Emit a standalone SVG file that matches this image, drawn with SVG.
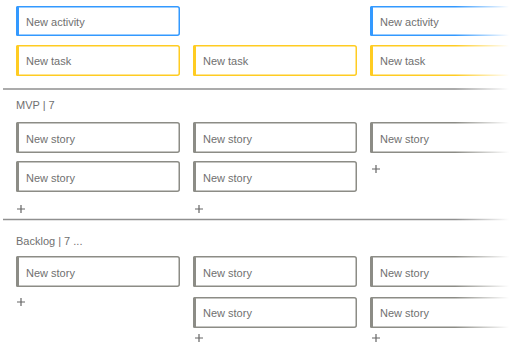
<svg xmlns="http://www.w3.org/2000/svg" width="509" height="345" viewBox="0 0 509 345">
  <style>
    .card { fill: #ffffff; stroke-width: 1.5; }
    .activity .card { stroke: #3399ff; }
    .activity .bar { fill: #3399ff; }
    .task .card { stroke: #ffcc22; }
    .task .bar { fill: #ffcc22; }
    .story .card { stroke: #8c8c86; }
    .story .bar { fill: #8c8c86; }
    .label { font-family: "Liberation Sans", Arial, sans-serif; font-size: 11px; fill: #707070; }
    .head { font-family: "Liberation Sans", Arial, sans-serif; font-size: 11px; fill: #707070; }
    .plus { stroke: #666666; stroke-width: 1.2; fill: none; }
    .sep { stroke: #8f8f8f; stroke-width: 1.5; }
  </style>
  <defs>
    <linearGradient id="fadeRight" x1="0" y1="0" x2="1" y2="0">
      <stop offset="0" stop-color="#ffffff" stop-opacity="0"/>
      <stop offset="1" stop-color="#ffffff" stop-opacity="1"/>
    </linearGradient>
  </defs>
  <rect width="509" height="345" fill="#ffffff"/>

  <!-- activities -->
  <g id="activity-1" class="activity">
    <rect class="card" x="16.75" y="6.75" width="162.5" height="28.5" rx="2"/>
    <rect class="bar" x="16" y="6" width="3" height="30" rx="1.5"/>
    <text class="label" x="26" y="25.5">New activity</text>
  </g>
  <g id="activity-3" class="activity">
    <rect class="card" x="370.75" y="6.75" width="162.5" height="28.5" rx="2"/>
    <rect class="bar" x="370" y="6" width="3" height="30" rx="1.5"/>
    <text class="label" x="380" y="25.5">New activity</text>
  </g>

  <!-- tasks -->
  <g id="task-1" class="task">
    <rect class="card" x="16.75" y="45.75" width="162.5" height="29.5" rx="2"/>
    <rect class="bar" x="16" y="45" width="3" height="31" rx="1.5"/>
    <text class="label" x="26" y="65">New task</text>
  </g>
  <g id="task-2" class="task">
    <rect class="card" x="193.75" y="45.75" width="162.5" height="29.5" rx="2"/>
    <rect class="bar" x="193" y="45" width="3" height="31" rx="1.5"/>
    <text class="label" x="203" y="65">New task</text>
  </g>
  <g id="task-3" class="task">
    <rect class="card" x="370.75" y="45.75" width="162.5" height="29.5" rx="2"/>
    <rect class="bar" x="370" y="45" width="3" height="31" rx="1.5"/>
    <text class="label" x="380" y="65">New task</text>
  </g>

  <line class="sep" x1="3" y1="89" x2="509" y2="89"/>
  <text class="head" x="16" y="108.5">MVP | 7</text>

  <!-- MVP stories -->
  <g id="mvp-story-1-1" class="story">
    <rect class="card" x="16.75" y="122.75" width="162.5" height="29.5" rx="2"/>
    <rect class="bar" x="16" y="122" width="3" height="31" rx="1.5"/>
    <text class="label" x="26" y="142.5">New story</text>
  </g>
  <g id="mvp-story-1-2" class="story">
    <rect class="card" x="16.75" y="161.75" width="162.5" height="29.5" rx="2"/>
    <rect class="bar" x="16" y="161" width="3" height="31" rx="1.5"/>
    <text class="label" x="26" y="181.5">New story</text>
  </g>
  <g id="mvp-story-2-1" class="story">
    <rect class="card" x="193.75" y="122.75" width="162.5" height="29.5" rx="2"/>
    <rect class="bar" x="193" y="122" width="3" height="31" rx="1.5"/>
    <text class="label" x="203" y="142.5">New story</text>
  </g>
  <g id="mvp-story-2-2" class="story">
    <rect class="card" x="193.75" y="161.75" width="162.5" height="29.5" rx="2"/>
    <rect class="bar" x="193" y="161" width="3" height="31" rx="1.5"/>
    <text class="label" x="203" y="181.5">New story</text>
  </g>
  <g id="mvp-story-3-1" class="story">
    <rect class="card" x="370.75" y="122.75" width="162.5" height="29.5" rx="2"/>
    <rect class="bar" x="370" y="122" width="3" height="31" rx="1.5"/>
    <text class="label" x="380" y="142.5">New story</text>
  </g>

  <!-- add buttons, MVP -->
  <g id="mvp-add-1"><path class="plus" d="M17 209h8M21 205v8"/></g>
  <g id="mvp-add-2"><path class="plus" d="M195 209h8M199 205v8"/></g>
  <g id="mvp-add-3"><path class="plus" d="M372 169h8M376 165v8"/></g>

  <line class="sep" x1="3" y1="219.5" x2="509" y2="219.5"/>
  <text class="head" x="16" y="244.5">Backlog | 7 ...</text>

  <!-- backlog stories -->
  <g id="backlog-story-1-1" class="story">
    <rect class="card" x="16.75" y="256.75" width="162.5" height="29.5" rx="2"/>
    <rect class="bar" x="16" y="256" width="3" height="31" rx="1.5"/>
    <text class="label" x="26" y="276.5">New story</text>
  </g>
  <g id="backlog-story-2-1" class="story">
    <rect class="card" x="193.75" y="256.75" width="162.5" height="29.5" rx="2"/>
    <rect class="bar" x="193" y="256" width="3" height="31" rx="1.5"/>
    <text class="label" x="203" y="276.5">New story</text>
  </g>
  <g id="backlog-story-2-2" class="story">
    <rect class="card" x="193.75" y="297.75" width="162.5" height="29.5" rx="2"/>
    <rect class="bar" x="193" y="297" width="3" height="31" rx="1.5"/>
    <text class="label" x="203" y="316.5">New story</text>
  </g>
  <g id="backlog-story-3-1" class="story">
    <rect class="card" x="370.75" y="256.75" width="162.5" height="29.5" rx="2"/>
    <rect class="bar" x="370" y="256" width="3" height="31" rx="1.5"/>
    <text class="label" x="380" y="276.5">New story</text>
  </g>
  <g id="backlog-story-3-2" class="story">
    <rect class="card" x="370.75" y="297.75" width="162.5" height="29.5" rx="2"/>
    <rect class="bar" x="370" y="297" width="3" height="31" rx="1.5"/>
    <text class="label" x="380" y="316.5">New story</text>
  </g>

  <!-- add buttons, backlog -->
  <g id="backlog-add-1"><path class="plus" d="M17 302h8M21 298v8"/></g>
  <g id="backlog-add-2"><path class="plus" d="M195 338h8M199 334v8"/></g>
  <g id="backlog-add-3"><path class="plus" d="M372 338h8M376 334v8"/></g>

  <!-- right-edge fade -->
  <rect x="455" y="0" width="54" height="345" fill="url(#fadeRight)"/>
</svg>
